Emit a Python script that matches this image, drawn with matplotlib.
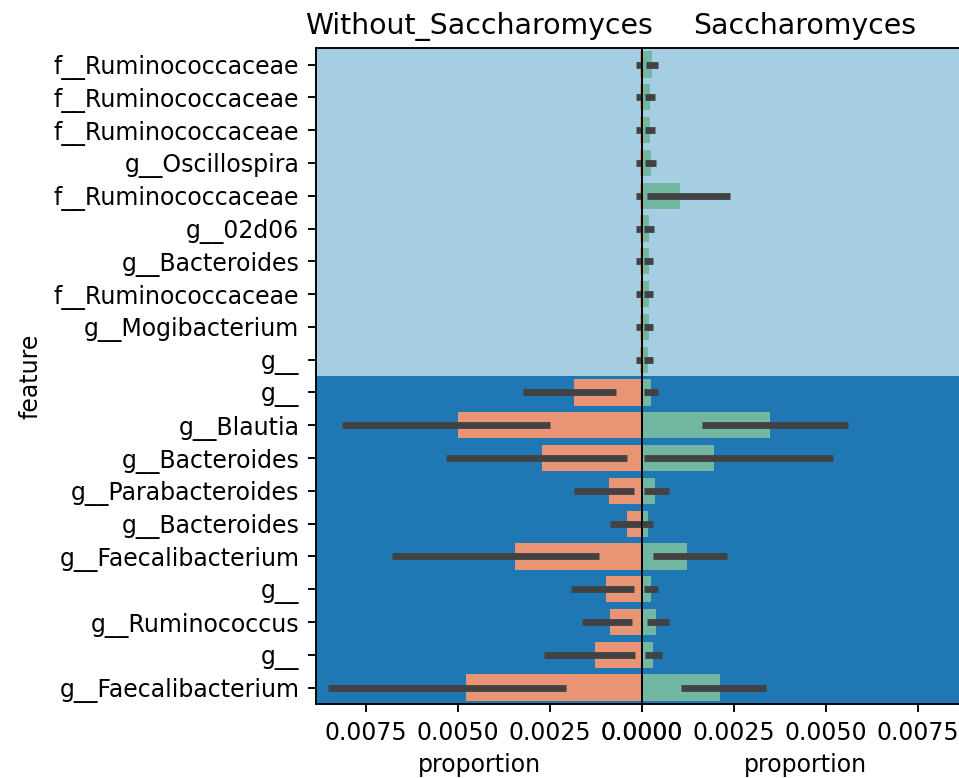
import matplotlib
matplotlib.use("Agg")
import matplotlib.pyplot as plt

# features, top to bottom
features = [
    "f__Ruminococcaceae", "f__Ruminococcaceae", "f__Ruminococcaceae", "g__Oscillospira",
    "f__Ruminococcaceae", "g__02d06", "g__Bacteroides", "f__Ruminococcaceae",
    "g__Mogibacterium", "g__", "g__", "g__Blautia", "g__Bacteroides",
    "g__Parabacteroides", "g__Bacteroides", "g__Faecalibacterium", "g__",
    "g__Ruminococcus", "g__", "g__Faecalibacterium",
]

# mean proportion and confidence interval, without Saccharomyces
without_mean = [0.00005, 0.00005, 0.00005, 0.00005, 0.00005, 0.00005, 0.00005, 0.00005,
                0.00005, 0.00005, 0.00186, 0.00501, 0.00271, 0.00091, 0.00040, 0.00344,
                0.00099, 0.00088, 0.00127, 0.00479]
without_lo = [0.0, 0.0, 0.0, 0.0, 0.0, 0.0, 0.0, 0.0, 0.0, 0.0,
              0.00071, 0.00249, 0.00040, 0.00023, 0.00002, 0.00118,
              0.00021, 0.00027, 0.00018, 0.00207]
without_hi = [0.00017, 0.00017, 0.00017, 0.00017, 0.00017, 0.00017, 0.00017, 0.00017,
              0.00017, 0.00017, 0.00324, 0.00816, 0.00534, 0.00185, 0.00088, 0.00679,
              0.00192, 0.00162, 0.00267, 0.00854]

# mean proportion and confidence interval, with Saccharomyces
with_mean = [0.00026, 0.00021, 0.00021, 0.00024, 0.00103, 0.00018, 0.00019, 0.00019,
             0.00019, 0.00017, 0.00023, 0.00349, 0.00195, 0.00034, 0.00017, 0.00123,
             0.00023, 0.00037, 0.00029, 0.00213]
with_lo = [0.00011, 0.00009, 0.00009, 0.00008, 0.00014, 0.00006, 0.00006, 0.00006,
           0.00006, 0.00006, 0.00006, 0.00162, 0.00006, 0.00006, 0.0, 0.00031,
           0.00006, 0.00013, 0.00007, 0.00105]
with_hi = [0.00043, 0.00036, 0.00035, 0.00038, 0.00239, 0.00032, 0.00030, 0.00030,
           0.00030, 0.00030, 0.00043, 0.00560, 0.00520, 0.00074, 0.00030, 0.00232,
           0.00043, 0.00072, 0.00054, 0.00336]

n_top = 10
xmax = 0.00886

light_bg = "#a6cee3"
dark_bg = "#1f78b4"
left_color = "#e99575"
right_color = "#71b7a1"
err_color = "#424242"

plt.rcParams["font.family"] = "DejaVu Sans"

fig = plt.figure(figsize=(9.59, 7.78), dpi=100)
ax_l = fig.add_axes([0.3295, 0.0951, 0.3400, 0.8430])
ax_r = fig.add_axes([0.6695, 0.0951, 0.3400, 0.8430], sharey=ax_l)

ypos = list(range(len(features)))

for ax, mean, lo, hi, col, title in [
    (ax_l, without_mean, without_lo, without_hi, left_color, "Without_Saccharomyces"),
    (ax_r, with_mean, with_lo, with_hi, right_color, "Saccharomyces"),
]:
    ax.axhspan(-0.5, n_top - 0.5, color=light_bg, zorder=0, lw=0)
    ax.axhspan(n_top - 0.5, len(features) - 0.5, color=dark_bg, zorder=0, lw=0)
    ax.barh(ypos, mean, height=0.8, color=col, zorder=2)
    for y, a, b in zip(ypos, lo, hi):
        ax.plot([a, b], [y, y], color=err_color, lw=4.9, solid_capstyle="butt", zorder=3)
    ax.set_title(title, fontsize=20.4, pad=10)
    ax.set_xlabel("proportion", fontsize=17, labelpad=6)
    ax.set_xticks([0, 0.0025, 0.005, 0.0075])
    ax.tick_params(axis="x", labelsize=17, length=6, width=1.36, pad=6)
    for s in ax.spines.values():
        s.set_linewidth(1.36)

ax_l.set_xlim(xmax, 0)
ax_r.set_xlim(0, xmax)
ax_l.set_ylim(len(features) - 0.5, -0.5)

ax_l.set_yticks(ypos)
ax_l.set_yticklabels(features)
ax_l.tick_params(axis="y", labelsize=17, length=6, width=1.36, pad=6)
ax_l.set_ylabel("feature", fontsize=17, labelpad=8)
ax_r.tick_params(axis="y", left=False, labelleft=False)

fig.savefig("out.png", dpi=100)
